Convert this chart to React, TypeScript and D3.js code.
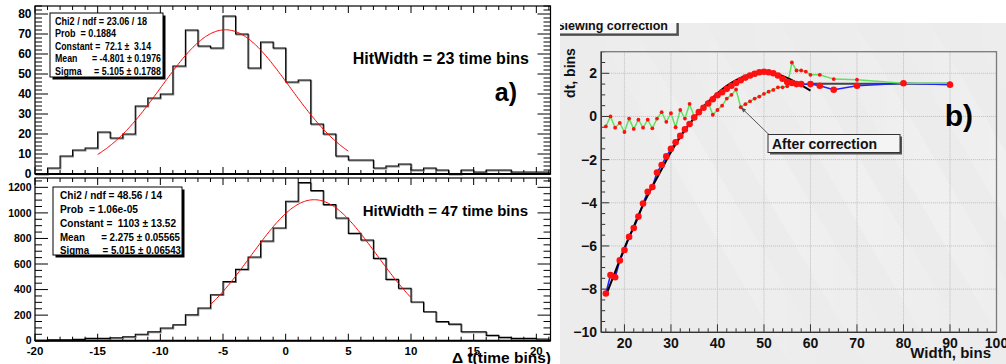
import React from 'react';
import * as d3 from 'd3';

// ---------- Panel a data ----------
const binStart = -20;
const topCounts = [0, 3, 9, 12, 13, 21, 18, 20, 34, 38, 40, 54, 72, 64, 63, 79, 70, 53, 66, 63, 46, 47, 25, 20, 9, 7, 7, 3, 4, 5, 2, 3, 2, 0, 2, 1, 2, 2, 1, 1, 1];
const bottomCounts = [3, 8, 8, 10, 18, 18, 23, 31, 50, 70, 99, 125, 203, 256, 360, 462, 558, 655, 780, 882, 1091, 1237, 1174, 1065, 960, 840, 788, 644, 480, 410, 303, 227, 149, 130, 70, 70, 42, 26, 18, 18, 13];
const topFit = { constant: 72.1, mean: -4.801, sigma: 5.105, from: -15, to: 5 };
const bottomFit = { constant: 1103, mean: 2.275, sigma: 5.015, from: -6, to: 10 };
const topStatLines = ['Chi2 / ndf = 23.06 / 18', 'Prob  = 0.1884', 'Constant =  72.1 \u00b1  3.14', 'Mean      = -4.801 \u00b1 0.1976', 'Sigma     = 5.105 \u00b1 0.1788'];
const bottomStatLines = ['Chi2 / ndf = 48.56 / 14', 'Prob  = 1.06e-05', 'Constant =  1103 \u00b1 13.52', 'Mean      = 2.275 \u00b1 0.05565', 'Sigma     = 5.015 \u00b1 0.06543'];
const xTicksA = [-20, -15, -10, -5, 0, 5, 10, 15, 20];
const yTicksTop = [0, 10, 20, 30, 40, 50, 60, 70, 80];
const yTicksBottom = [0, 200, 400, 600, 800, 1000, 1200];

// ---------- Panel b data ----------
const beforeX = [16, 17, 18, 19, 20, 21, 22, 23, 24, 25, 26, 27, 28, 29, 30, 31, 32, 33, 34, 35, 36, 37, 38, 39, 40, 41, 42, 43, 44, 45, 46, 47, 48, 49, 50, 51, 52, 53, 54, 55, 56, 57, 58, 60, 62, 65, 70, 80, 90];
const beforeDt = [-8.2, -7.35, -7.45, -6.67, -6.19, -5.58, -5.17, -4.64, -4.03, -3.49, -3.27, -2.6, -2.25, -1.85, -1.5, -1.2, -0.9, -0.6, -0.35, -0.05, 0.2, 0.4, 0.6, 0.8, 0.98, 1.12, 1.28, 1.42, 1.55, 1.68, 1.8, 1.9, 1.98, 2.05, 2.07, 2.05, 2.0, 1.9, 1.75, 1.6, 1.55, 1.5, 1.5, 1.5, 1.42, 1.24, 1.42, 1.54, 1.47];
const afterX = [16, 17, 18, 19, 20, 21, 22, 23, 24, 25, 26, 27, 28, 29, 30, 31, 32, 33, 34, 35, 36, 37, 38, 39, 40, 41, 42, 43, 44, 45, 46, 47, 48, 49, 50, 51, 52, 53, 54, 55, 56, 57, 58, 59, 60, 62, 65, 70, 80, 90];
const afterDt = [-0.46, 0.0, -0.52, -0.3, -0.72, -0.1, -0.58, -0.15, -0.52, -0.15, -0.55, -0.1, 0.2, -0.25, 0.15, -0.5, 0.3, -0.1, 0.58, 0.0, 0.2, 0.45, 0.65, 0.08, 0.3, 0.5, 0.83, 1.0, 1.25, 0.43, 0.57, 0.7, 0.83, 0.92, 1.05, 1.15, 1.23, 1.35, 1.35, 1.4, 2.5, 2.13, 2.13, 2.08, 1.93, 1.93, 1.73, 1.7, 1.54, 1.54];
const fitX = [16, 18, 20, 22, 24, 26, 28, 30, 32, 34, 36, 38, 40, 42, 44, 46, 48, 50, 52, 54, 56, 58, 60];
const fitDt = [-8.3, -7.2, -6.1, -5.1, -4.1, -3.25, -2.45, -1.65, -0.95, -0.35, 0.2, 0.68, 1.08, 1.42, 1.68, 1.88, 2.0, 2.04, 2.0, 1.88, 1.68, 1.45, 1.2];
const constFitX = [60, 90];
const constFitDt = [1.52, 1.52];
const xTicksB = [20, 30, 40, 50, 60, 70, 80, 90, 100];
const yTicksB = [-10, -8, -6, -4, -2, 0, 2];
const arrowTarget = { x: 45, dt: 0.43 };

const FONT = '"Liberation Sans", Arial, Helvetica, sans-serif';

function gauss(p: { constant: number; mean: number; sigma: number }, x: number) {
  return p.constant * Math.exp(-0.5 * ((x - p.mean) / p.sigma) ** 2);
}

function HistPanel(props: {
  counts: number[];
  fit: { constant: number; mean: number; sigma: number; from: number; to: number };
  yMax: number;
  top: number;
  bottom: number;
  yTicks: number[];
  yMinorStep: number;
  yLabelSize: number;
  stats: string[];
  statBox: { x: number; y: number; w: number; h: number };
  statTextX: number;
  statWidths: number[];
  statBaselines: number[];
  statFont: number;
  title: string;
  titleX: number;
  titleY: number;
  titleSize: number;
  showXLabels: boolean;
}) {
  const x = d3.scaleLinear().domain([-20, 21.13]).range([35, 550.5]);
  const y = d3.scaleLinear().domain([0, props.yMax]).range([props.bottom, props.top]);
  const n = props.counts.length;
  const pts: [number, number][] = [[binStart, 0]];
  props.counts.forEach((c, i) => pts.push([binStart + i, c]));
  pts.push([binStart + n, props.counts[n - 1]]);
  pts.push([binStart + n, 0]);
  const hist = d3.line<[number, number]>().x(d => x(d[0])).y(d => y(d[1])).curve(d3.curveStepAfter)(pts) || '';
  const fitPts = d3.range(props.fit.from, props.fit.to + 0.001, 0.1).map(v => [v, gauss(props.fit, v)] as [number, number]);
  const fitPath = d3.line<[number, number]>().x(d => x(d[0])).y(d => y(d[1]))(fitPts) || '';
  const [x0, x1] = x.range();
  const xMinor = d3.range(-20, 22, 1);
  const yMinor = d3.range(0, props.yMax + 0.001, props.yMinorStep);
  const sb = props.statBox;
  return (
    <g fontFamily={FONT} fontWeight="bold">
      {xMinor.map(v => {
        const major = v % 5 === 0;
        const len = major ? 7 : 4;
        return (
          <g key={'xt' + v}>
            <line x1={x(v)} x2={x(v)} y1={props.bottom} y2={props.bottom - len} stroke="#000" strokeWidth={1} />
            <line x1={x(v)} x2={x(v)} y1={props.top} y2={props.top + len} stroke="#000" strokeWidth={1} />
          </g>
        );
      })}
      {yMinor.map(v => {
        const major = props.yTicks.includes(Math.round(v));
        const len = major ? 13 : 7;
        return (
          <g key={'yt' + v}>
            <line x1={x0} x2={x0 + len} y1={y(v)} y2={y(v)} stroke="#000" strokeWidth={1} />
            <line x1={x1} x2={x1 - len} y1={y(v)} y2={y(v)} stroke="#000" strokeWidth={1} />
          </g>
        );
      })}
      {props.yTicks.map(v => (
        <text key={'yl' + v} x={31.5} y={y(v) + props.yLabelSize * 0.36} textAnchor="end" fontSize={props.yLabelSize} fill="#000">{v}</text>
      ))}
      {props.showXLabels && xTicksA.map(v => (
        <text key={'xl' + v} x={x(v)} y={props.bottom + 14} textAnchor="middle" fontSize={11.5} fill="#000">{v}</text>
      ))}
      <path d={hist} fill="none" stroke="#888" strokeWidth={1.2} transform="translate(0.8,0.8)" />
      <path d={hist} fill="none" stroke="#000" strokeWidth={1.1} />
      <path d={fitPath} fill="none" stroke="#ff0000" strokeWidth={1} />
      <rect x={x0} y={props.top} width={x1 - x0} height={props.bottom - props.top} fill="none" stroke="#000" strokeWidth={1.2} />
      <line x1={x0} x2={x1} y1={props.bottom} y2={props.bottom} stroke="#000" strokeWidth={2} />
      <rect x={sb.x + 2.5} y={sb.y + 2.5} width={sb.w} height={sb.h} fill="#000" />
      <rect x={sb.x} y={sb.y} width={sb.w} height={sb.h} fill="#fff" stroke="#000" strokeWidth={1} />
      {props.stats.map((s, i) => (
        <text key={'st' + i} x={props.statTextX} y={props.statBaselines[i]} fontSize={props.statFont} fill="#000"
          textLength={props.statWidths[i]} lengthAdjust="spacingAndGlyphs" style={{ whiteSpace: 'pre' }}>{s}</text>
      ))}
      <text x={props.titleX} y={props.titleY} fontSize={props.titleSize} fill="#000" textAnchor="end">{props.title}</text>
    </g>
  );
}

function PanelB() {
  const x = d3.scaleLinear().domain([15, 100]).range([601.2, 996.5]);
  const y = d3.scaleLinear().domain([-10, 3]).range([332.3, 51.7]);
  const [x0, x1] = x.range();
  const [yb, yt] = y.range();
  const line = d3.line<[number, number]>().x(d => x(d[0])).y(d => y(d[1]));
  const before = beforeX.map((v, i) => [v, beforeDt[i]] as [number, number]);
  const after = afterX.map((v, i) => [v, afterDt[i]] as [number, number]);
  const fit = fitX.map((v, i) => [v, fitDt[i]] as [number, number]);
  const cfit = constFitX.map((v, i) => [v, constFitDt[i]] as [number, number]);
  const fitPath = d3.line<[number, number]>().x(d => x(d[0])).y(d => y(d[1])).curve(d3.curveCatmullRom)(fit) || '';
  const ax = x(arrowTarget.x);
  const ay = y(arrowTarget.dt);
  const bx = 768, by = 134.5, bw = 132, bh = 18;
  const sx = bx + 3, sy = by + 2;
  const ang = Math.atan2(ay - sy, ax - sx);
  const ah = 6;
  const head = `M${ax},${ay} L${ax - ah * Math.cos(ang - 0.35)},${ay - ah * Math.sin(ang - 0.35)} L${ax - ah * Math.cos(ang + 0.35)},${ay - ah * Math.sin(ang + 0.35)} Z`;
  const streaks = [0, 1, 2, 3, 4, 5];
  return (
    <g fontFamily={FONT} fontWeight="bold">
      <defs>
        <clipPath id="clipB"><rect x={560} y={23} width={446} height={341} /></clipPath>
        <linearGradient id="streak" x1="0" y1="0" x2="1" y2="0">
          <stop offset="0" stopColor="#ffffff" stopOpacity={0} />
          <stop offset="0.5" stopColor="#ffffff" stopOpacity={0.5} />
          <stop offset="1" stopColor="#ffffff" stopOpacity={0} />
        </linearGradient>
      </defs>
      <g clipPath="url(#clipB)">
        <rect x={560} y={23} width={446} height={341} fill="#ececec" />
        {streaks.map(i => (
          <polygon key={'s' + i} points={`${590 + i * 75},23 ${630 + i * 75},23 ${830 + i * 75},364 ${790 + i * 75},364`} fill="url(#streak)" opacity={0.45} />
        ))}
        {xTicksB.filter(v => v < 100).map(v => (
          <line key={'gx' + v} x1={x(v)} x2={x(v)} y1={yb} y2={yt} stroke="#bdbdbd" strokeWidth={1} strokeDasharray="1,1" />
        ))}
        {yTicksB.filter(v => v > -10).map(v => (
          <line key={'gy' + v} x1={x0} x2={x1} y1={y(v)} y2={y(v)} stroke="#bdbdbd" strokeWidth={1} strokeDasharray="1,1" />
        ))}
        {d3.range(16, 100.01, 2).map(v => {
          const major = v % 10 === 0;
          return <line key={'tx' + v} x1={x(v)} x2={x(v)} y1={yb} y2={yb - (major ? 8 : 4)} stroke="#333" strokeWidth={1} />;
        })}
        {d3.range(-10, 3.001, 0.5).map(v => {
          const major = Math.abs(v % 2) < 1e-6;
          return <line key={'ty' + v} x1={x0} x2={x0 + (major ? 8 : 4)} y1={y(v)} y2={y(v)} stroke="#333" strokeWidth={1} />;
        })}
        <rect x={x0} y={yt} width={x1 - x0} height={yb - yt} fill="none" stroke="#7a7a7a" strokeWidth={1.3} />
        <line x1={x0} x2={x0} y1={yt} y2={yb} stroke="#333" strokeWidth={1.3} />
        <line x1={x0} x2={x1} y1={yb} y2={yb} stroke="#333" strokeWidth={1.3} />
        {xTicksB.map(v => (
          <text key={'lx' + v} x={x(v)} y={348} textAnchor="middle" fontSize={14} fill="#111">{v}</text>
        ))}
        {yTicksB.map(v => (
          <text key={'ly' + v} x={597} y={y(v) + 5} textAnchor="end" fontSize={14} fill="#111">{v < 0 ? '\u2212' + Math.abs(v) : v}</text>
        ))}
        <text transform={`translate(575,73) rotate(-90)`} textAnchor="middle" fontSize={14} fill="#111">dt, bins</text>
        <text x={991} y={358} textAnchor="end" fontSize={15} fill="#111">Width, bins</text>
        <text x={973} y={126} textAnchor="end" fontSize={30} fill="#000">b)</text>
        <path d={line(cfit) || ''} fill="none" stroke="#444" strokeWidth={2} />
        <path d={line(before) || ''} fill="none" stroke="#2222ff" strokeWidth={1.6} />
        <path d={line(after) || ''} fill="none" stroke="#5ee35e" strokeWidth={1.5} />
        <path d={fitPath} fill="none" stroke="#000" strokeWidth={2} />
        {before.map((d, i) => <circle key={'b' + i} cx={x(d[0])} cy={y(d[1])} r={3.3} fill="#ff1010" />)}
        {after.map((d, i) => <circle key={'a' + i} cx={x(d[0])} cy={y(d[1])} r={1.9} fill="#ff1010" />)}
        <line x1={sx} y1={sy} x2={ax} y2={ay} stroke="#555" strokeWidth={1} />
        <path d={head} fill="#555" />
        <rect x={bx + 2} y={by + 2} width={bw} height={bh} fill="#555" />
        <rect x={bx} y={by} width={bw} height={bh} fill="#f4f4f4" stroke="#333" strokeWidth={1} />
        <text x={bx + 4} y={by + 14} fontSize={14} fill="#111">After correction</text>
        <rect x={547} y={12} width={132} height={24} fill="#666" />
        <rect x={545} y={10} width={132} height={24} fill="#f6f6f6" stroke="#333" strokeWidth={1} />
        <text x={668} y={30} textAnchor="end" fontSize={12.5} fill="#111">Slewing correction</text>
      </g>
    </g>
  );
}

export default function App() {
  return (
    <svg width={1006} height={364} style={{ position: 'absolute', left: 0, top: 0, background: '#fff' }}>
      <rect x={0} y={0} width={1006} height={364} fill="#fff" />
      <HistPanel
        counts={topCounts}
        fit={topFit}
        yMax={84}
        top={6}
        bottom={174}
        yTicks={yTicksTop}
        yMinorStep={2}
        yLabelSize={12}
        stats={topStatLines}
        statBox={{ x: 50, y: 13, w: 113, h: 64 }}
        statTextX={55}
        statWidths={[92, 61, 96, 106, 106]}
        statBaselines={[24.5, 37, 49.5, 61.5, 74.5]}
        statFont={10}
        title="HitWidth = 23 time bins"
        titleX={529}
        titleY={63.5}
        titleSize={16}
        showXLabels={false}
      />
      <text x={517} y={101} textAnchor="end" fontSize={25} fontFamily={FONT} fontWeight="bold" fill="#000">a)</text>
      <HistPanel
        counts={bottomCounts}
        fit={bottomFit}
        yMax={1273}
        top={178}
        bottom={340.7}
        yTicks={yTicksBottom}
        yMinorStep={50}
        yLabelSize={10.5}
        stats={bottomStatLines}
        statBox={{ x: 53, y: 187, w: 129, h: 68 }}
        statTextX={60}
        statWidths={[102, 78, 116, 120, 121]}
        statBaselines={[199, 213, 227, 241, 254]}
        statFont={10.5}
        title="HitWidth = 47 time bins"
        titleX={528}
        titleY={215.5}
        titleSize={15}
        showXLabels={true}
      />
      <text x={551} y={363} textAnchor="end" fontSize={15.5} fontFamily={FONT} fontWeight="bold" fill="#000">{'\u0394 t(time bins)'}</text>
      <PanelB />
    </svg>
  );
}
